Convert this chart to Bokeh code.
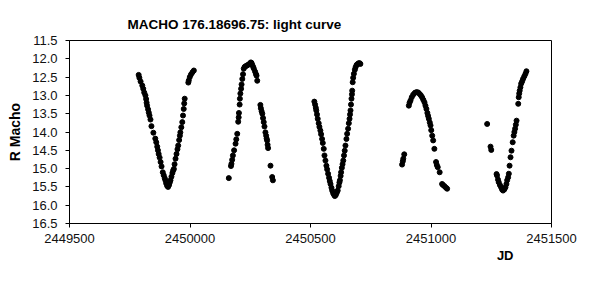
from bokeh.plotting import figure
from bokeh.models import Range1d, FixedTicker, PrintfTickFormatter, Title, ColumnDataSource
from bokeh.embed import file_html
from bokeh.resources import INLINE

# ---- data (JD, R Macho magnitude) ----
jd_s1 = [2449787, 2449790, 2449795, 2449802, 2449806, 2449810, 2449815, 2449818, 2449820,
         2449822, 2449826, 2449829, 2449832, 2449836, 2449840, 2449848, 2449856, 2449860,
         2449864, 2449867, 2449870, 2449874, 2449878, 2449882, 2449887, 2449891, 2449895,
         2449898, 2449901, 2449905, 2449909, 2449913, 2449916, 2449919, 2449923, 2449927,
         2449930, 2449933, 2449936, 2449940, 2449944, 2449948, 2449951, 2449955, 2449958,
         2449960, 2449964, 2449968, 2449971, 2449974, 2449976, 2449978, 2449993, 2449995,
         2449999, 2450004, 2450010, 2450016]
mag_s1 = [12.44, 12.52, 12.62, 12.73, 12.82, 12.92, 13.00, 13.10, 13.20,
          13.28, 13.38, 13.47, 13.55, 13.66, 13.84, 14.02, 14.18, 14.28,
          14.40, 14.50, 14.60, 14.70, 14.82, 14.94, 15.10, 15.18, 15.26,
          15.32, 15.40, 15.47, 15.50, 15.45, 15.38, 15.32, 15.22, 15.12,
          15.05, 15.01, 14.88, 14.73, 14.60, 14.47, 14.37, 14.22, 14.10,
          14.01, 13.87, 13.73, 13.55, 13.37, 13.22, 13.09, 12.65, 12.59,
          12.50, 12.43, 12.37, 12.32]

jd_s2 = [2450161, 2450170, 2450172, 2450175, 2450178, 2450183, 2450189, 2450192, 2450196,
         2450200, 2450202, 2450203, 2450206, 2450207, 2450209, 2450212, 2450214, 2450217,
         2450220, 2450223, 2450227, 2450232, 2450237, 2450242, 2450248, 2450252, 2450255,
         2450258, 2450262, 2450265, 2450270, 2450274, 2450276, 2450279, 2450292, 2450294,
         2450297, 2450300, 2450303, 2450306, 2450309, 2450313, 2450316, 2450318, 2450320,
         2450322, 2450324, 2450334, 2450341, 2450344]
mag_s2 = [15.26, 14.93, 14.87, 14.76, 14.64, 14.50, 14.32, 14.20, 14.05,
          13.72, 13.60, 13.48, 13.25, 13.09, 12.95, 12.82, 12.70, 12.55,
          12.42, 12.27, 12.22, 12.20, 12.18, 12.16, 12.13, 12.10, 12.11,
          12.16, 12.22, 12.27, 12.35, 12.42, 12.46, 12.60, 13.26, 13.35,
          13.43, 13.50, 13.62, 13.73, 13.85, 14.01, 14.10, 14.18, 14.23,
          14.35, 14.44, 14.92, 15.23, 15.32]

jd_s3 = [2450516, 2450519, 2450522, 2450524, 2450527, 2450530, 2450534, 2450537, 2450541,
         2450544, 2450548, 2450551, 2450555, 2450558, 2450562, 2450566, 2450569, 2450573,
         2450577, 2450580, 2450583, 2450587, 2450590, 2450594, 2450597, 2450601, 2450605,
         2450609, 2450613, 2450617, 2450620, 2450622, 2450625, 2450627, 2450630, 2450633,
         2450636, 2450639, 2450642, 2450645, 2450649, 2450652, 2450656, 2450659, 2450662,
         2450664, 2450666, 2450668, 2450670, 2450672, 2450673, 2450675, 2450677, 2450680,
         2450684, 2450687, 2450691, 2450696, 2450700, 2450704, 2450707]
mag_s3 = [13.17, 13.25, 13.34, 13.41, 13.52, 13.64, 13.76, 13.86, 13.96,
          14.06, 14.19, 14.30, 14.46, 14.64, 14.78, 14.92, 15.02, 15.14,
          15.25, 15.34, 15.42, 15.52, 15.60, 15.67, 15.71, 15.75, 15.72,
          15.66, 15.60, 15.48, 15.38, 15.32, 15.20, 15.10, 14.98, 14.88,
          14.78, 14.64, 14.51, 14.37, 14.19, 14.05, 13.91, 13.76, 13.64,
          13.52, 13.41, 13.25, 13.09, 12.97, 12.87, 12.64, 12.52, 12.41,
          12.30, 12.23, 12.17, 12.14, 12.12, 12.12, 12.14]

jd_s4 = [2450880, 2450883, 2450885, 2450889, 2450908, 2450911, 2450915, 2450920, 2450926,
         2450933, 2450940, 2450947, 2450953, 2450958, 2450963, 2450968, 2450973, 2450977,
         2450981, 2450985, 2450988, 2450991, 2450995, 2450998, 2451001, 2451005, 2451009,
         2451014, 2451021, 2451024, 2451028, 2451036, 2451046, 2451050, 2451056, 2451062,
         2451067]
mag_s4 = [14.89, 14.80, 14.73, 14.61, 13.28, 13.20, 13.14, 13.05, 12.98,
          12.93, 12.91, 12.92, 12.96, 13.00, 13.05, 13.12, 13.19, 13.28,
          13.37, 13.48, 13.56, 13.64, 13.74, 13.82, 13.95, 14.10, 14.23,
          14.46, 14.82, 14.90, 14.96, 15.10, 15.42, 15.45, 15.48, 15.52,
          15.55]

jd_s5 = [2451233, 2451247, 2451250, 2451272, 2451274, 2451278, 2451281, 2451286, 2451291,
         2451295, 2451299, 2451304, 2451309, 2451313, 2451316, 2451320, 2451323, 2451326,
         2451330, 2451334, 2451339, 2451343, 2451346, 2451349, 2451352, 2451355, 2451362,
         2451364, 2451366, 2451368, 2451371, 2451374, 2451378, 2451382, 2451387, 2451392,
         2451396]
mag_s5 = [13.78, 14.40, 14.49, 15.15, 15.19, 15.30, 15.37, 15.45, 15.51,
          15.57, 15.60, 15.57, 15.51, 15.42, 15.32, 15.24, 15.14, 14.92,
          14.69, 14.51, 14.28, 14.10, 14.00, 13.91, 13.80, 13.69, 13.23,
          13.05, 12.95, 12.87, 12.78, 12.68, 12.62, 12.55, 12.48, 12.41,
          12.34]

x_ticks = [2449500, 2450000, 2450500, 2451000, 2451500]
y_ticks = [11.5, 12.0, 12.5, 13.0, 13.5, 14.0, 14.5, 15.0, 15.5, 16.0, 16.5]

title_text = "MACHO 176.18696.75: light curve"
x_label = "JD"
y_label = "R Macho"

FONT = "Liberation Sans"

jd_all = jd_s1 + jd_s2 + jd_s3 + jd_s4 + jd_s5
mag_all = mag_s1 + mag_s2 + mag_s3 + mag_s4 + mag_s5
src = ColumnDataSource(data=dict(jd=jd_all, mag=mag_all))

p = figure(width=593, height=298, output_backend="svg", toolbar_location=None,
           x_range=Range1d(x_ticks[0], x_ticks[-1]),
           y_range=Range1d(y_ticks[-1], y_ticks[0]),
           min_border_left=69, min_border_right=42,
           min_border_top=40, min_border_bottom=75)

p.background_fill_color = "white"
p.border_fill_color = "white"
p.outline_line_color = "black"
p.outline_line_width = 1
p.outline_line_alpha = 1
p.xgrid.visible = False
p.ygrid.visible = False

p.scatter("jd", "mag", source=src, size=5, color="black", marker="circle")

# title
p.title.text = title_text
p.title.align = "left"
p.title.offset = 58
p.title.standoff = 18
p.title.text_font = FONT
p.title.text_font_size = "13.5px"
p.title.text_font_style = "bold"
p.title.text_color = "black"

# axes
for ax in (p.xaxis[0], p.yaxis[0]):
    ax.axis_line_color = "black"
    ax.major_tick_line_color = "black"
    ax.major_tick_out = 4
    ax.major_tick_in = 0
    ax.minor_tick_line_color = None
    ax.major_label_text_font = FONT
    ax.major_label_text_font_size = "13px"
    ax.major_label_text_color = "#111111"

p.xaxis[0].ticker = FixedTicker(ticks=x_ticks)
p.xaxis[0].formatter = PrintfTickFormatter(format="%d")
p.xaxis[0].major_label_standoff = 6

p.yaxis[0].ticker = FixedTicker(ticks=y_ticks)
p.yaxis[0].formatter = PrintfTickFormatter(format="%.1f")
p.yaxis[0].major_label_standoff = 8
p.yaxis[0].axis_label = y_label
p.yaxis[0].axis_label_text_font = FONT
p.yaxis[0].axis_label_text_font_size = "14px"
p.yaxis[0].axis_label_text_font_style = "bold"
p.yaxis[0].axis_label_text_color = "black"
p.yaxis[0].axis_label_standoff = 6

jd_title = Title(text=x_label, align="right", offset=38, standoff=0, text_font=FONT,
                 text_font_size="13px", text_font_style="bold", text_color="black")
p.add_layout(jd_title, "below")

open("out.html", "w").write(file_html(p, INLINE))
